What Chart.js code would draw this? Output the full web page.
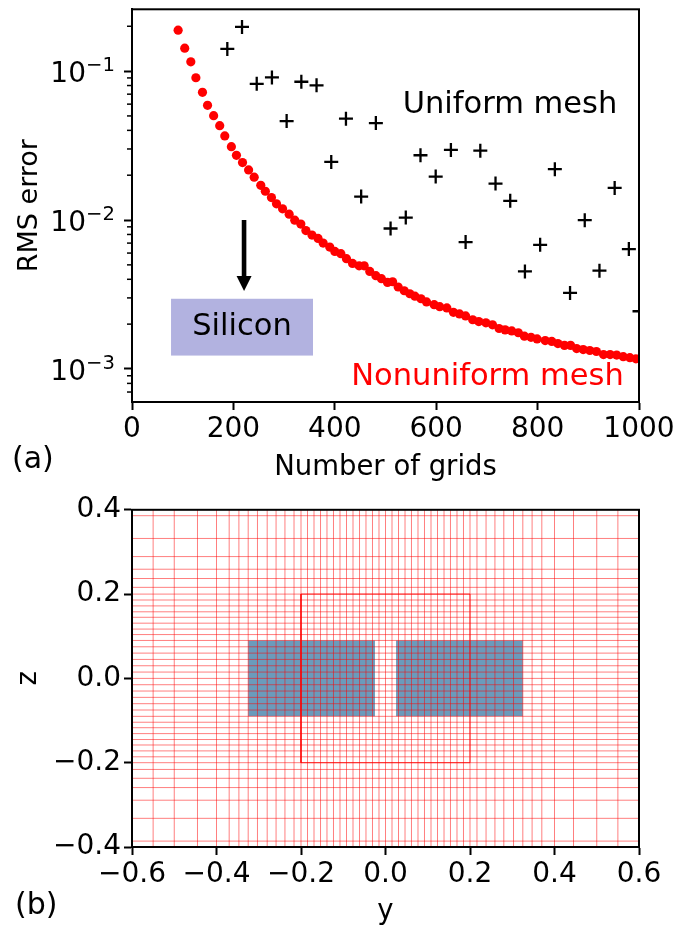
<!DOCTYPE html>
<html>
<head>
<meta charset="utf-8">
<script src="https://cdn.jsdelivr.net/npm/chart.js@4"></script>
<style>
  html, body { margin: 0; padding: 0; background: #fff; }
  #top { position: absolute; left: 0; top: 0; width: 678px; height: 490px; }
  #bottom { position: absolute; left: 0; top: 490px; width: 678px; height: 435px; }
</style>
</head>
<body>
<div id="top"><canvas id="errorChart"></canvas></div>
<div id="bottom"><canvas id="meshChart"></canvas></div>
<script>
// panel (a): RMS error vs number of grids
const uniformGrids = [188, 217, 246, 276, 305, 334, 364, 393, 422, 452, 481, 510, 540, 569, 599, 629, 658, 687, 717, 746, 775, 805, 834, 864, 893, 922, 952, 980, 1001];
const uniformError = [0.141, 0.198, 0.0822, 0.0907, 0.0462, 0.0848, 0.0802, 0.02456, 0.0479, 0.01438, 0.0448, 0.00877, 0.01039, 0.02723, 0.01957, 0.02955, 0.00711, 0.02924, 0.01757, 0.01345, 0.00452, 0.00682, 0.02194, 0.00324, 0.00998, 0.00457, 0.01644, 0.00638, 0.00244];

const nonuniformGrids = [91, 104, 116, 126, 139, 149, 161, 173, 183, 196, 206, 218, 230, 241, 254, 263, 275, 285, 297, 310, 321, 333, 343, 355, 367, 377, 390, 400, 412, 423, 435, 448, 458, 469, 481, 492, 504, 514, 525, 537, 548, 558, 570, 581, 596, 607, 621, 634, 646, 658, 672, 684, 698, 711, 724, 736, 749, 762, 774, 787, 799, 815, 828, 840, 853, 865, 877, 890, 903, 916, 930, 943, 956, 969, 982, 994, 1003];
const nonuniformError = [0.1883, 0.1426, 0.1154, 0.0902, 0.072, 0.0589, 0.0502, 0.043, 0.0367, 0.0311, 0.0272, 0.0243, 0.0217, 0.0194, 0.0171, 0.0156, 0.01415, 0.01284, 0.0119, 0.01095, 0.00998, 0.00939, 0.0085, 0.00792, 0.00752, 0.007, 0.00658, 0.00615, 0.00594, 0.0055, 0.00511, 0.00493, 0.00493, 0.00452, 0.00423, 0.00404, 0.00381, 0.00385, 0.00355, 0.00335, 0.0032, 0.00308, 0.00296, 0.00282, 0.0027, 0.00262, 0.00257, 0.0024, 0.00234, 0.00227, 0.00214, 0.00208, 0.00204, 0.00198, 0.00187, 0.00183, 0.0018, 0.00175, 0.00166, 0.00163, 0.00159, 0.00155, 0.00153, 0.00148, 0.00144, 0.00144, 0.00137, 0.00135, 0.00133, 0.00131, 0.00125, 0.00125, 0.00124, 0.00121, 0.00119, 0.00117, 0.00116];

const errorMajorTicks = [0.001, 0.01, 0.1];
const errorMinorTicks = [0.0007, 0.0008, 0.0009, 0.002, 0.003, 0.004, 0.005, 0.006, 0.007, 0.008, 0.009, 0.02, 0.03, 0.04, 0.05, 0.06, 0.07, 0.08, 0.09, 0.2];

// panel (b): mesh lines and silicon cross-section
const meshY = [-0.55, -0.5, -0.445, -0.4, -0.37, -0.347, -0.325, -0.303, -0.28, -0.259, -0.238, -0.2165, -0.2, -0.1846, -0.1692, -0.1538, -0.1385, -0.1231, -0.1077, -0.0923, -0.0769, -0.0615, -0.0462, -0.0308, -0.0154, 0, 0.0154, 0.0308, 0.0462, 0.0615, 0.0769, 0.0923, 0.1077, 0.1231, 0.1385, 0.1538, 0.1692, 0.1846, 0.2, 0.2165, 0.238, 0.259, 0.28, 0.303, 0.325, 0.347, 0.37, 0.4, 0.445, 0.5, 0.55];
const meshZ = [-0.386, -0.332, -0.289, -0.259, -0.237, -0.216, -0.2, -0.186, -0.172, -0.158, -0.145, -0.131, -0.117, -0.104, -0.09, -0.075, -0.06, -0.045, -0.03, -0.015, 0, 0.015, 0.03, 0.045, 0.06, 0.075, 0.09, 0.104, 0.117, 0.131, 0.145, 0.158, 0.172, 0.186, 0.2, 0.216, 0.237, 0.259, 0.289, 0.332, 0.386];
const outlineY = [-0.2, 0.2, 0.2, -0.2, -0.2];
const outlineZ = [-0.2, -0.2, 0.2, 0.2, -0.2];
const leftWaveguideY = [-0.325, -0.025, -0.025, -0.325, -0.325];
const rightWaveguideY = [0.025, 0.325, 0.325, 0.025, 0.025];
const waveguideZ = [-0.09, -0.09, 0.09, 0.09, -0.09];

const FONT = '"DejaVu Sans"';
const pairs = (xs, ys) => xs.map((x, i) => ({ x: x, y: ys[i] }));

function baseScale(title, titlePad) {
  return {
    type: 'linear',
    border: { display: true, color: '#000', width: 2 },
    grid: { drawOnChartArea: false, drawTicks: true, tickLength: 8, tickWidth: 2, tickColor: '#000' },
    ticks: { color: '#000', font: { family: FONT, size: 28 }, maxRotation: 0, autoSkip: false, includeBounds: false },
    title: { display: true, text: title, color: '#000', font: { family: FONT, size: 27.5, lineHeight: 1 }, padding: titlePad }
  };
}

// top and right spines drawn over the data
const framePlugin = {
  id: 'frame',
  afterDatasetsDraw(chart) {
    const a = chart.chartArea, c = chart.ctx;
    c.save();
    c.strokeStyle = '#000';
    c.lineWidth = 2;
    c.strokeRect(a.left, a.top, a.right - a.left, a.bottom - a.top);
    c.restore();
  }
};

// log axis labels, minor ticks and the annotations of panel (a)
const errorExtras = {
  id: 'errorExtras',
  beforeDatasetsDraw(chart) {
    const c = chart.ctx, x = chart.scales.x, y = chart.scales.y;
    const bx = x.getPixelForValue(77), bw = x.getPixelForValue(357) - bx;
    const by = y.getPixelForValue(0.00296), bh = y.getPixelForValue(0.00123) - by;
    c.save();
    c.fillStyle = '#b2b2e0';
    c.fillRect(bx, by, bw, bh);
    c.restore();
  },
  afterDraw(chart) {
    const c = chart.ctx, x = chart.scales.x, y = chart.scales.y, a = chart.chartArea;
    c.save();
    c.fillStyle = '#000';
    c.strokeStyle = '#000';
    c.lineWidth = 1.5;
    errorMinorTicks.forEach(v => {
      const p = y.getPixelForValue(v);
      c.beginPath();
      c.moveTo(a.left - 5, p);
      c.lineTo(a.left, p);
      c.stroke();
    });
    errorMajorTicks.forEach(v => {
      const p = y.getPixelForValue(v);
      const exp = Math.round(Math.log10(v));
      c.textBaseline = 'alphabetic';
      c.textAlign = 'right';
      c.font = '19.6px ' + FONT;
      c.fillText('\u2212' + Math.abs(exp), 115, p);
      c.font = '28px ' + FONT;
      c.fillText('10', 86, p + 11);
    });
    // arrow pointing at the silicon box
    const ax = x.getPixelForValue(221);
    c.fillRect(ax - 2.3, 220, 4.6, 57);
    c.beginPath();
    c.moveTo(ax - 7.5, 276);
    c.lineTo(ax + 7.5, 276);
    c.lineTo(ax, 291);
    c.closePath();
    c.fill();

    c.textAlign = 'center';
    c.textBaseline = 'alphabetic';
    c.font = '30.5px ' + FONT;
    c.fillText('Silicon', 242, 335);
    c.fillText('Uniform mesh', 510, 113);
    c.fillStyle = '#ff0000';
    c.fillText('Nonuniform mesh', 487.5, 385);
    c.fillStyle = '#000';
    c.textAlign = 'left';
    c.font = '30px ' + FONT;
    c.fillText('(a)', 12, 468);
    c.restore();
  }
};

const meshExtras = {
  id: 'meshExtras',
  afterDraw(chart) {
    const c = chart.ctx;
    c.save();
    c.fillStyle = '#000';
    c.textAlign = 'left';
    c.textBaseline = 'alphabetic';
    c.font = '30px ' + FONT;
    c.fillText('(b)', 15, 424);
    c.restore();
  }
};

const errorX = baseScale('Number of grids', { top: 0, bottom: 8 });
errorX.min = 0;
errorX.max = 1000;
errorX.ticks.stepSize = 200;
errorX.ticks.callback = v => String(v);
errorX.afterFit = s => { s.height = 88; };

const errorY = baseScale('RMS error', { top: 16, bottom: 0 });
errorY.title.font.size = 27;
errorY.type = 'logarithmic';
errorY.min = 0.0006;
errorY.max = 0.26;
errorY.afterBuildTicks = s => { s.ticks = errorMajorTicks.map(v => ({ value: v })); };
errorY.ticks.callback = () => '';
// the hidden tick labels must not add top margin
errorY.afterFit = s => { s.width = 132; s.paddingTop = 0; };

new Chart(document.getElementById('errorChart'), {
  type: 'scatter',
  data: {
    datasets: [
      { data: pairs(uniformGrids, uniformError), pointStyle: 'cross', pointRadius: 7, borderColor: '#000', borderWidth: 2.3, backgroundColor: '#000' },
      { data: pairs(nonuniformGrids, nonuniformError), pointStyle: 'circle', pointRadius: 4.6, borderWidth: 0, backgroundColor: '#ff0000' }
    ]
  },
  options: {
    responsive: true,
    maintainAspectRatio: false,
    animation: false,
    layout: { padding: { left: 0, right: 39, top: 9, bottom: 0 } },
    plugins: { legend: { display: false }, tooltip: { enabled: false } },
    scales: { x: errorX, y: errorY }
  },
  plugins: [framePlugin, errorExtras]
});

// chart.js paints the first dataset on top, so the silicon blocks go last
function meshDatasets() {
  const out = [];
  out.push({ data: pairs(outlineY, outlineZ), showLine: true, pointRadius: 0, borderWidth: 1, borderColor: 'rgba(255,0,0,0.8)' });
  meshY.forEach(v => {
    out.push({ data: [{ x: v, y: -0.4 }, { x: v, y: 0.4 }], showLine: true, pointRadius: 0, borderWidth: 1, borderColor: 'rgba(255,0,0,0.5)' });
  });
  meshZ.forEach(v => {
    out.push({ data: [{ x: -0.6, y: v }, { x: 0.6, y: v }], showLine: true, pointRadius: 0, borderWidth: 1, borderColor: 'rgba(255,0,0,0.5)' });
  });
  const solid = (ys) => ({ data: pairs(ys, waveguideZ), showLine: true, pointRadius: 0, borderWidth: 0, borderColor: 'transparent', backgroundColor: '#6a9bbc', fill: 'shape', tension: 0 });
  out.push(solid(leftWaveguideY), solid(rightWaveguideY));
  return out;
}

const decimalLabel = v => (v < 0 ? '\u2212' : '') + Math.abs(v).toFixed(1);

const meshX = baseScale('y', { top: 0, bottom: -1 });
meshX.min = -0.6;
meshX.max = 0.6;
meshX.ticks.stepSize = 0.2;
meshX.ticks.callback = decimalLabel;
meshX.afterFit = s => { s.height = 78; };

const meshYAxis = baseScale('z', { top: 15, bottom: 0 });
meshYAxis.min = -0.4;
meshYAxis.max = 0.4;
meshYAxis.ticks.stepSize = 0.2;
meshYAxis.ticks.callback = decimalLabel;
meshYAxis.afterFit = s => { s.width = 132; };

new Chart(document.getElementById('meshChart'), {
  type: 'scatter',
  data: { datasets: meshDatasets() },
  options: {
    responsive: true,
    maintainAspectRatio: false,
    animation: false,
    layout: { padding: { left: 0, right: 39, top: 19, bottom: 0 } },
    plugins: { legend: { display: false }, tooltip: { enabled: false } },
    scales: { x: meshX, y: meshYAxis }
  },
  plugins: [framePlugin, meshExtras]
});
</script>
</body>
</html>
